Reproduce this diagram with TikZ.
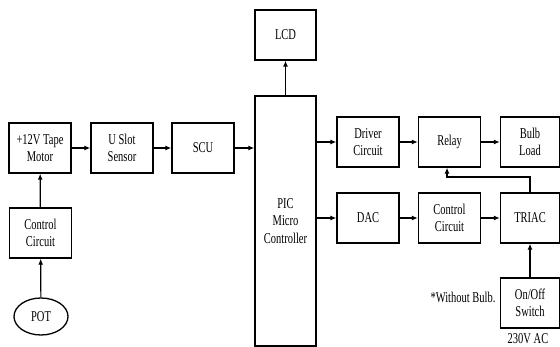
\documentclass[tikz,border=0pt]{standalone}
\usepackage{fontspec}
\setmainfont{Liberation Serif}[FakeStretch=0.7]
\usetikzlibrary{arrows.meta,shapes.geometric}
\begin{document}
\begin{tikzpicture}[x=1pt,y=-1pt,
  blk/.style={draw=black, line width=1.3pt, minimum width=62pt, minimum height=50pt, inner sep=0pt, align=center,
    font=\fontsize{15}{17.5}\selectfont},
  lbl/.style={inner sep=0pt, align=center, font=\fontsize{15}{17.5}\selectfont},
  every path/.style={line width=1.2pt},
  >={Latex[length=6pt,width=5pt]}]
  \useasboundingbox (0,0) rectangle (560,347);
  % Motor side (left)
  \node[blk] (motor) at (40,148) {+12V Tape\\Motor};
  \node[blk] (uslot) at (122,148) {U Slot\\Sensor};
  \node[blk] (scu) at (203,148) {SCU};
  \node[blk] (ctrll) at (40.5,233) {Control\\Circuit};
  \node[blk, ellipse, minimum width=54pt, minimum height=37pt] (pot) at (41,316.5) {POT};
  % Controller and display (centre)
  \node[blk, minimum width=61pt, minimum height=250pt] (pic) at (285.5,221) {PIC\\Micro\\Controller};
  \node[blk, minimum width=61pt] (lcd) at (285.5,35) {LCD};
  % Load side (right)
  \node[blk] (driver) at (368,142) {Driver\\Circuit};
  \node[blk] (relay) at (449.5,142) {Relay};
  \node[blk, minimum width=59pt] (bulb) at (530,142) {Bulb\\Load};
  \node[blk] (dac) at (368,218) {DAC};
  \node[blk] (ctrlr) at (449.5,218) {Control\\Circuit};
  \node[blk, minimum width=59pt] (triac) at (530,218) {TRIAC};
  \node[blk, minimum width=59pt] (switch) at (530,303) {On/Off\\Switch};
  \node[lbl] (ac) at (528,339) {230V AC};
  \node[lbl] (note) at (463,297) {*Without Bulb.};
  % Connections
  \draw[->] (pot) -- (ctrll);
  \draw[->] (ctrll) -- (motor);
  \draw[->] (motor) -- (uslot);
  \draw[->] (uslot) -- (scu);
  \draw[->] (scu.east) -- (scu.east -| pic.west);
  \draw[->] (pic) -- (lcd);
  \draw[->] (driver.west -| pic.east) -- (driver.west);
  \draw[->] (dac.west -| pic.east) -- (dac.west);
  \draw[->] (driver) -- (relay);
  \draw[->] (relay) -- (bulb);
  \draw[->] (dac) -- (ctrlr);
  \draw[->] (ctrlr) -- (triac);
  \draw[->] (switch) -- (triac);
  % feedback TRIAC to relay
  \coordinate (fb) at (447,177);
  \draw[->] (triac.north) |- (fb) -- (fb |- relay.south);
\end{tikzpicture}
\end{document}
